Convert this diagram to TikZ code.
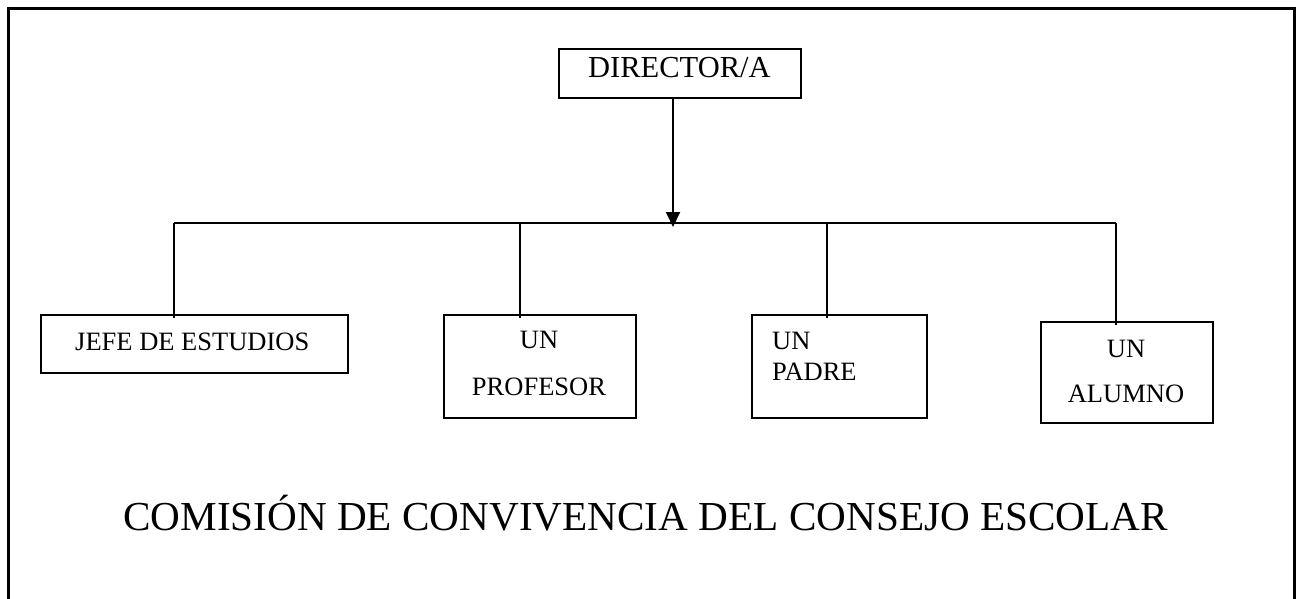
\documentclass[tikz,border=0pt]{standalone}
\usepackage{fontspec}
\setmainfont{Liberation Serif}
\usetikzlibrary{arrows.meta}
\tikzset{
  box/.style={draw, line width=2pt, rectangle, anchor=north west, inner sep=0pt},
  conn/.style={line width=2pt},
  lbl/.style={inner sep=0pt, font=\fontsize{26.5}{30}\selectfont},
  biglbl/.style={inner sep=0pt, font=\fontsize{30.5}{34}\selectfont},
  titlelbl/.style={inner sep=0pt, font=\fontsize{41.2}{46}\selectfont},
  frame/.style={line width=3pt}
}
\begin{document}
\begin{tikzpicture}[x=1pt,y=-1pt]
\useasboundingbox (0,0) rectangle (1298,599);
\fill[white] (0,0) rectangle (1298,599);
% outer frame (open at the bottom)
\coordinate (fbl) at (8,602);
\coordinate (ftl) at (8,9);
\coordinate (ftr) at (1294,9);
\coordinate (fbr) at (1294,602);
\draw[frame] (fbl) -- (ftl) -- (ftr) -- (fbr);
% boxes
\node[box, minimum width=242pt, minimum height=49pt] (dir) at (558,48) {};
\node[box, minimum width=307pt, minimum height=58pt] (jefe) at (40,314) {};
\node[box, minimum width=192pt, minimum height=103pt] (prof) at (443,314) {};
\node[box, minimum width=175pt, minimum height=103pt] (padre) at (751,314) {};
\node[box, minimum width=172pt, minimum height=101pt] (alum) at (1040,321) {};
% texts
\node[biglbl, anchor=base west] (tdir) at (588,78) {DIRECTOR/A};
\node[lbl, anchor=base west] (tjefe) at (75,350) {JEFE DE ESTUDIOS};
\node[lbl, anchor=base] (tprof1) at (539,348) {UN};
\node[lbl, anchor=base] (tprof2) at (539,395) {PROFESOR};
\node[lbl, anchor=base west] (tpad1) at (772,349) {UN};
\node[lbl, anchor=base west] (tpad2) at (772,380) {PADRE};
\node[lbl, anchor=base] (talum1) at (1126,357) {UN};
\node[lbl, anchor=base] (talum2) at (1126,402) {ALUMNO};
\node[titlelbl, anchor=base west] (title) at (123,530) {COMISIÓN DE CONVIVENCIA DEL CONSEJO ESCOLAR};
% connectors
\coordinate (bar) at (673,223);
\coordinate (b1) at (174,223);
\coordinate (b2) at (520,223);
\coordinate (b3) at (827,223);
\coordinate (b4) at (1116,223);
\draw[conn] (b1) -- (b4);
\draw[conn, -{Triangle[length=15pt,width=14pt]}] (dir.south -| bar) -- ([yshift=-4pt]bar);
\draw[conn] (b1) -- ([yshift=-4pt]b1 |- jefe.north);
\draw[conn] (b2) -- ([yshift=-4pt]b2 |- prof.north);
\draw[conn] (b3) -- ([yshift=-4pt]b3 |- padre.north);
\draw[conn] (b4) -- ([yshift=-4pt]b4 |- alum.north);
\end{tikzpicture}
\end{document}
